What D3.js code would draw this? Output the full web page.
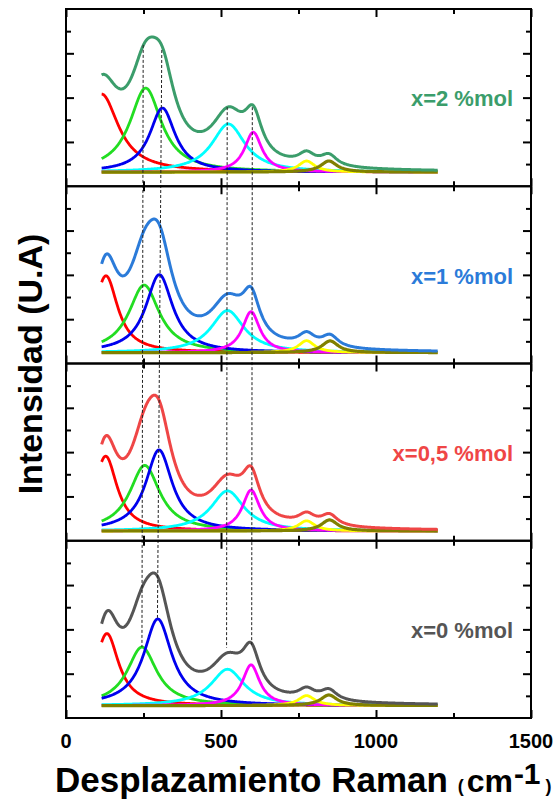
<!DOCTYPE html>
<html>
<head>
<meta charset="utf-8">
<script src="https://cdn.jsdelivr.net/npm/d3@7/dist/d3.min.js"></script>
<style>
  html, body { margin: 0; padding: 0; background: #fff; }
  text { font-family: "Liberation Sans", Arial, sans-serif; font-weight: bold; }
</style>
</head>
<body>
<svg id="chart" width="559" height="802"></svg>
<script>
// ---------------- DATA ----------------
const panelLabels = ["x=2 %mol", "x=1 %mol", "x=0,5 %mol", "x=0 %mol"];
const sumColors = ["#3b9d6b", "#2b7bd9", "#ef4646", "#555555"];
const componentNames = ["purple", "red", "green", "blue", "cyan", "magenta", "yellow", "olive"];
const componentColors = ["#8844ff", "#ff0000", "#22dd22", "#0000ee", "#00ffff", "#ff00ff", "#ffff00", "#808000"];

// Fitted peak parameters per panel (order matches componentNames)
// centres (cm-1)
const centers2 = [650, 115, 257, 311, 524, 604, 776, 848];
const centers1 = [650, 129, 252, 301, 521, 597, 776, 852];
const centers05 = [650, 128, 254, 300, 521, 597, 776, 850];
const centers0 = [650, 132, 245, 296, 521, 597, 776, 848];
// heights (arbitrary units)
const heights2 = [0.06, 3.52, 3.79, 2.89, 2.17, 1.80, 0.50, 0.50];
const heights1 = [0.06, 3.47, 3.05, 3.52, 1.90, 1.85, 0.54, 0.53];
const heights05 = [0.06, 3.38, 2.96, 3.66, 1.81, 1.85, 0.46, 0.50];
const heights0 = [0.06, 3.25, 2.64, 3.91, 1.64, 1.84, 0.45, 0.48];
// half widths (cm-1)
const widths2 = [300, 66, 62, 50, 65, 34, 32, 32];
const widths1 = [300, 46, 60, 53, 65, 34, 32, 32];
const widths05 = [300, 45, 59, 52, 65, 34, 32, 32];
const widths0 = [300, 46, 58, 55, 65, 34, 32, 32];
// baseline offsets per panel
const baselines = [0.64, 0.49, 0.44, 0.56];

// spectral range of fitted curves
const ramanRange = [115, 1200];

// axis ticks
const xTicks = [0, 500, 1000, 1500];
const xMinorTicks = [250, 750, 1250];
const yTicks = [2, 4, 6];
const yMinorTicks = [1, 3, 5, 7];

// dashed guide lines: x at top (panel 1) and bottom (panel 4), y in panel units
const guideXTop = [249, 309, 520, 601];
const guideXBottom = [245, 295, 518, 599];
const guideYTop = [6.38, 6.15, 3.57, 3.57];
const guideYBottom = [3.21, 4.52, 3.17, 3.30];

const panels = [
  { c: centers2, h: heights2, w: widths2 },
  { c: centers1, h: heights1, w: widths1 },
  { c: centers05, h: heights05, w: widths05 },
  { c: centers0, h: heights0, w: widths0 }
];

// ---------------- LAYOUT ----------------
const svg = d3.select("#chart");
const plotLeft = 66, plotRight = 531, plotTop = 9, plotBottom = 718;
const panelH = (plotBottom - plotTop) / 4;

const x = d3.scaleLinear().domain([0, 1500]).range([plotLeft, plotRight]);
const yScales = panels.map((p, i) =>
  d3.scaleLinear().domain([0, 8]).range([plotTop + panelH * (i + 1), plotTop + panelH * i]));

const lorentz = (xv, c, h, w) => h / (1 + ((xv - c) / w) ** 2);
const grid = d3.range(ramanRange[0], ramanRange[1] + 0.1, 2);

const gCurves = svg.append("g");
panels.forEach((p, i) => {
  const y = yScales[i];
  const g = gCurves.append("g");
  const line = d3.line().x(d => x(d[0])).y(d => y(d[1])).curve(d3.curveLinear);
  componentNames.forEach((name, k) => {
    const pts = grid.map(xv => [xv, baselines[i] + lorentz(xv, p.c[k], p.h[k], p.w[k])]);
    g.append("path").attr("d", line(pts)).attr("fill", "none")
      .attr("stroke", componentColors[k]).attr("stroke-width", name === "olive" ? 3.2 : 2.8)
      .attr("stroke-linejoin", "round");
  });
  const sumPts = grid.map(xv => [xv, baselines[i] + d3.sum(componentNames, (n, k) => lorentz(xv, p.c[k], p.h[k], p.w[k]))]);
  g.append("path").attr("d", line(sumPts)).attr("fill", "none")
    .attr("stroke", sumColors[i]).attr("stroke-width", 3).attr("stroke-linejoin", "round");

  g.append("text").attr("x", 513).attr("y", y(3.6)).attr("text-anchor", "end")
    .attr("font-size", 22).attr("fill", sumColors[i]).text(panelLabels[i]);
});

// dashed guide lines
guideXTop.forEach((xt, k) => {
  svg.append("line")
    .attr("x1", x(xt)).attr("y1", yScales[0](guideYTop[k]))
    .attr("x2", x(guideXBottom[k])).attr("y2", yScales[3](guideYBottom[k]))
    .attr("stroke", "#222").attr("stroke-width", 1).attr("stroke-dasharray", "3,2");
});

// frames and ticks
panels.forEach((p, i) => {
  const y = yScales[i];
  const g = svg.append("g");
  g.append("g").attr("transform", `translate(0,${y(0)})`)
    .call(d3.axisTop(x).tickValues(xTicks).tickSize(8).tickFormat(""));
  g.append("g").attr("transform", `translate(0,${y(0)})`)
    .call(d3.axisTop(x).tickValues(xMinorTicks).tickSize(5).tickFormat(""));
  g.append("g").attr("transform", `translate(0,${y(8)})`)
    .call(d3.axisBottom(x).tickValues(xTicks).tickSize(8).tickFormat(""));
  g.append("g").attr("transform", `translate(0,${y(8)})`)
    .call(d3.axisBottom(x).tickValues(xMinorTicks).tickSize(5).tickFormat(""));
  g.append("g").attr("transform", `translate(${plotLeft},0)`)
    .call(d3.axisRight(y).tickValues(yTicks).tickSize(8).tickFormat(""));
  g.append("g").attr("transform", `translate(${plotLeft},0)`)
    .call(d3.axisRight(y).tickValues(yMinorTicks).tickSize(5).tickFormat(""));
  g.append("g").attr("transform", `translate(${plotRight},0)`)
    .call(d3.axisLeft(y).tickValues(yTicks).tickSize(8).tickFormat(""));
  g.append("g").attr("transform", `translate(${plotRight},0)`)
    .call(d3.axisLeft(y).tickValues(yMinorTicks).tickSize(5).tickFormat(""));
  g.selectAll(".domain").remove();
  g.selectAll(".tick line").attr("stroke", "#000").attr("stroke-width", 2);
  g.append("rect").attr("x", plotLeft).attr("y", y(8)).attr("width", plotRight - plotLeft)
    .attr("height", y(0) - y(8)).attr("fill", "none").attr("stroke", "#000").attr("stroke-width", 2);
});

// x tick labels
svg.append("g").selectAll("text").data(xTicks).join("text")
  .attr("x", d => x(d)).attr("y", 748).attr("text-anchor", "middle")
  .attr("font-size", 20).attr("fill", "#000").text(d => d);

// x title
const xt = svg.append("text").attr("x", 55).attr("y", 792).attr("fill", "#000");
xt.append("tspan").attr("font-size", 35).text("Desplazamiento Raman ");
xt.append("tspan").attr("font-size", 18).text("(");
xt.append("tspan").attr("font-size", 32).attr("dx", 3).text("cm");
xt.append("tspan").attr("font-size", 30).attr("dx", 1).attr("dy", -8).text("-1");
xt.append("tspan").attr("font-size", 18).attr("dx", 5).attr("dy", 8).text(")");

// y title
svg.append("text").attr("transform", "translate(42,364) rotate(-90)")
  .attr("text-anchor", "middle").attr("font-size", 34).attr("fill", "#000")
  .text("Intensidad (U.A)");
</script>
</body>
</html>
